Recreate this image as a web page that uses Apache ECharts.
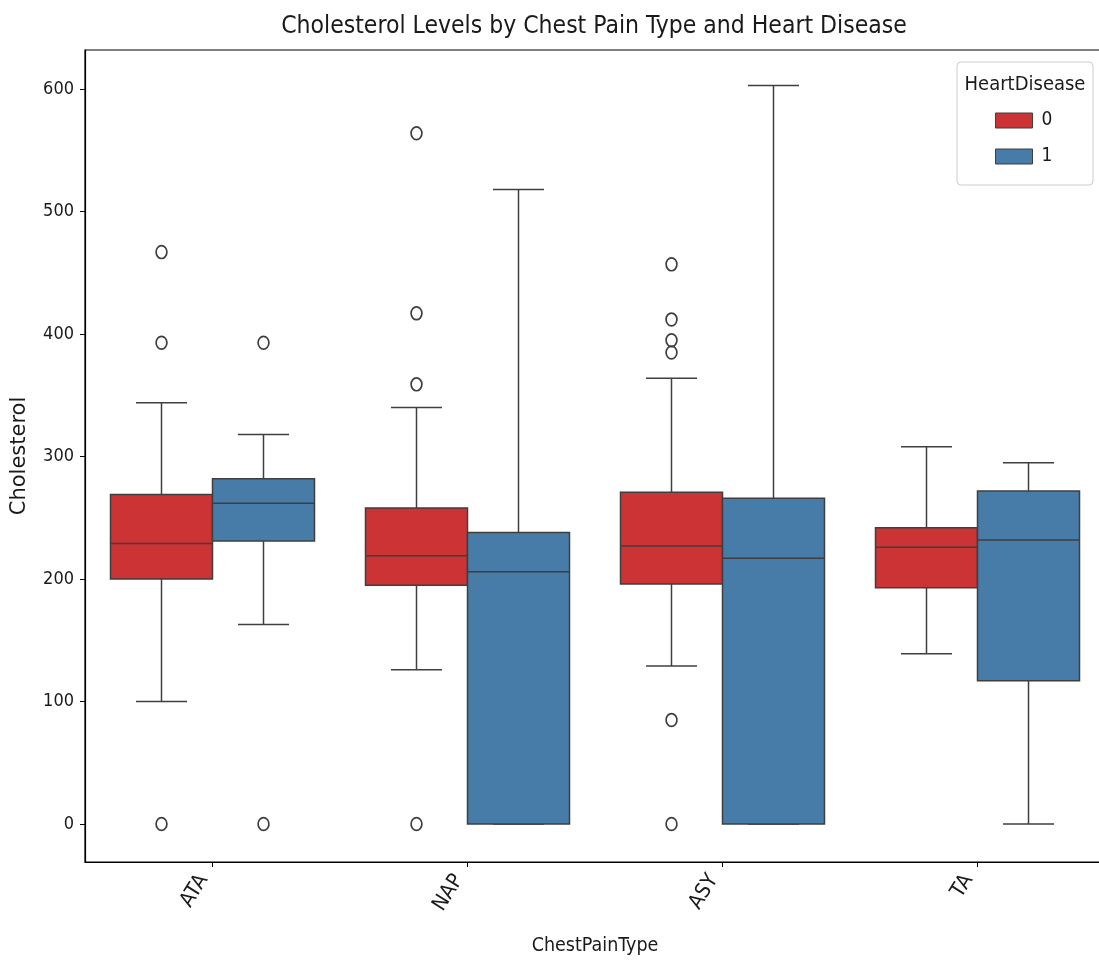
<!DOCTYPE html>
<html>
<head>
<meta charset="utf-8">
<script src="https://cdn.jsdelivr.net/npm/echarts@6/dist/echarts.min.js"></script>
<style>
html, body { margin: 0; padding: 0; background: #fff; }
#chart { width: 1099px; height: 965px; }
</style>
</head>
<body>
<div id="chart"></div>
<script>
// ---- data ----
const categories = ['ATA', 'NAP', 'ASY', 'TA'];
const seriesNames = ['0', '1'];
// [min whisker, Q1, median, Q3, max whisker] per category
const statsNoDisease = [
  [100, 200, 229, 269, 344],
  [126, 195, 219, 258, 340],
  [129, 196, 227, 271, 364],
  [139, 193, 226, 242, 308]
];
const statsDisease = [
  [163, 231, 262, 282, 318],
  [0, 0, 206, 238, 518],
  [0, 0, 217, 266, 603],
  [0, 117, 232, 272, 295]
];
// outliers per category
const outliersNoDisease = [
  [467, 393, 0],
  [564, 417, 359, 0],
  [457, 412, 395, 385, 85, 0],
  []
];
const outliersDisease = [
  [393, 0],
  [],
  [],
  []
];
const yTicks = [0, 100, 200, 300, 400, 500, 600];

const colors = ['#CB3335', '#477CA8'];
const lineColor = '#3f3f3f';
const FONT = "'DejaVu Sans Condensed', 'Liberation Sans Narrow', 'DejaVu Sans', sans-serif";

const chart = echarts.init(document.getElementById('chart'), null, { renderer: 'canvas' });

function boxData(stats) {
  return stats.map((s, i) => [i].concat(s));
}
function outlierData(outs) {
  const d = [];
  outs.forEach((arr, i) => arr.forEach(v => d.push([i, v])));
  return d;
}

function makeBoxRender(sIdx) {
  return function (params, api) {
    const ci = api.value(0);
    const band = api.size([1, 0])[0];
    const boxW = band * 0.4;          // two boxes fill 80% of the band
    const cx = api.coord([ci, 0])[0] + (sIdx === 0 ? -boxW / 2 : boxW / 2);
    const y = v => api.coord([ci, v])[1];
    const yMin = y(api.value(1)), yQ1 = y(api.value(2)), yMed = y(api.value(3)),
          yQ3 = y(api.value(4)), yMax = y(api.value(5));
    const capW = boxW * 0.5;
    const ls = { stroke: lineColor, lineWidth: 1.5 };
    return {
      type: 'group',
      children: [
        { type: 'line', shape: { x1: cx, y1: yQ1, x2: cx, y2: yMin }, style: ls },
        { type: 'line', shape: { x1: cx, y1: yQ3, x2: cx, y2: yMax }, style: ls },
        { type: 'line', shape: { x1: cx - capW / 2, y1: yMin, x2: cx + capW / 2, y2: yMin }, style: ls },
        { type: 'line', shape: { x1: cx - capW / 2, y1: yMax, x2: cx + capW / 2, y2: yMax }, style: ls },
        { type: 'rect', shape: { x: cx - boxW / 2, y: yQ3, width: boxW, height: yQ1 - yQ3 },
          style: { fill: colors[sIdx], stroke: lineColor, lineWidth: 1.5 } },
        { type: 'line', shape: { x1: cx - boxW / 2, y1: yMed, x2: cx + boxW / 2, y2: yMed }, style: ls }
      ]
    };
  };
}

function makeOutlierRender(sIdx) {
  return function (params, api) {
    const ci = api.value(0);
    const band = api.size([1, 0])[0];
    const boxW = band * 0.4;
    const p = api.coord([ci, api.value(1)]);
    const cx = p[0] + (sIdx === 0 ? -boxW / 2 : boxW / 2);
    return {
      type: 'ellipse',
      shape: { cx: cx, cy: p[1], rx: 5.4, ry: 6.4 },
      style: { fill: 'none', stroke: lineColor, lineWidth: 1.7 }
    };
  };
}

const option = {
  backgroundColor: '#ffffff',
  animation: false,
  textStyle: { fontFamily: FONT },
  grid: { left: 85, right: -6, top: 50, bottom: 103, containLabel: false, outerBoundsMode: 'none',
    show: true, borderColor: '#000', borderWidth: 1.2, backgroundColor: 'transparent' },
  legend: {
    orient: 'vertical',
    left: 995,
    top: 111,
    padding: 0,
    itemWidth: 37,
    itemHeight: 15,
    itemGap: 17,
    icon: 'rect',
    textStyle: { fontFamily: FONT, fontSize: 19, color: '#1a1a1a', padding: [0, 0, 0, 4] },
    itemStyle: { borderColor: lineColor, borderWidth: 1 },
    data: seriesNames,
    selectedMode: false
  },
  xAxis: {
    type: 'category',
    data: categories,
    boundaryGap: true,
    name: 'ChestPainType',
    nameLocation: 'middle',
    nameGap: 74,
    nameTextStyle: { fontFamily: FONT, fontSize: 19.5, color: '#1a1a1a' },
    axisLine: { show: true, onZero: false, lineStyle: { color: '#000', width: 1.2 } },
    axisTick: { show: true, alignWithLabel: true, length: 5, lineStyle: { color: '#000' } },
    axisLabel: { rotate: 58, fontFamily: FONT, fontSize: 21, color: '#1a1a1a', margin: 20,
      verticalAlign: 'bottom' },
    splitLine: { show: false }
  },
  yAxis: {
    type: 'value',
    min: -31,
    max: 632,
    splitNumber: 6,
    name: 'Cholesterol',
    nameLocation: 'middle',
    nameGap: 55,
    nameTextStyle: { fontFamily: "'DejaVu Sans', sans-serif", fontSize: 21, color: '#1a1a1a' },
    axisLine: { show: true, onZero: false, lineStyle: { color: '#000', width: 1.2 } },
    axisTick: { show: true, length: 5, lineStyle: { color: '#000' } },
    axisLabel: {
      fontFamily: FONT, fontSize: 18, color: '#1a1a1a', margin: 11,
      formatter: v => (yTicks.indexOf(v) >= 0 ? String(v) : ''),
      showMinLabel: false, showMaxLabel: false
    },
    splitLine: { show: false }
  },
  graphic: [
    {
      type: 'text', x: 594, y: 27,
      style: { text: 'Cholesterol Levels by Chest Pain Type and Heart Disease',
        textAlign: 'center', textVerticalAlign: 'middle',
        font: "24.5px 'DejaVu Sans Condensed', 'Liberation Sans Narrow', 'DejaVu Sans', sans-serif", fill: '#1a1a1a' }
    },
    {
      type: 'rect', shape: { x: 957, y: 62, width: 136, height: 123, r: 4 },
      style: { fill: 'rgba(255,255,255,0.8)', stroke: '#cccccc', lineWidth: 1 }, z: -1
    },
    {
      type: 'text', x: 1025, y: 85,
      style: { text: 'HeartDisease', textAlign: 'center', textVerticalAlign: 'middle',
        font: "20px 'DejaVu Sans Condensed', 'Liberation Sans Narrow', 'DejaVu Sans', sans-serif", fill: '#1a1a1a' }
    }
  ],
  series: [
    {
      name: seriesNames[0], type: 'custom', renderItem: makeBoxRender(0),
      itemStyle: { color: colors[0] },
      encode: { x: 0, y: [1, 2, 3, 4, 5] }, data: boxData(statsNoDisease), z: 2
    },
    {
      name: seriesNames[1], type: 'custom', renderItem: makeBoxRender(1),
      itemStyle: { color: colors[1] },
      encode: { x: 0, y: [1, 2, 3, 4, 5] }, data: boxData(statsDisease), z: 2
    },
    {
      name: 'outliers0', type: 'custom', renderItem: makeOutlierRender(0),
      encode: { x: 0, y: 1 }, data: outlierData(outliersNoDisease), z: 3
    },
    {
      name: 'outliers1', type: 'custom', renderItem: makeOutlierRender(1),
      encode: { x: 0, y: 1 }, data: outlierData(outliersDisease), z: 3
    }
  ]
};
chart.setOption(option);
</script>
</body>
</html>
